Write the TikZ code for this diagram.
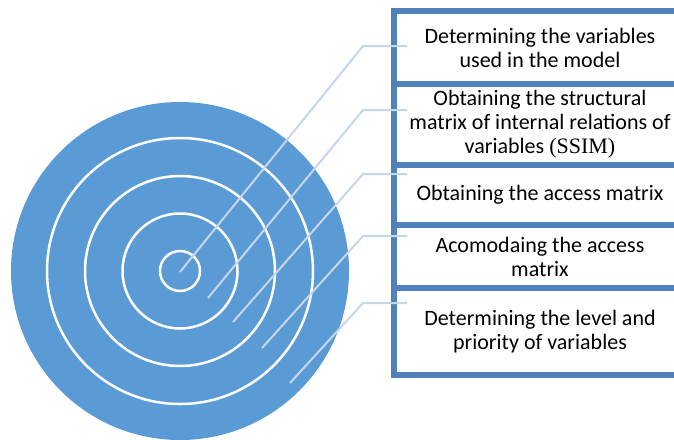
\documentclass[tikz,border=0pt]{standalone}
\usepackage{fontspec}
\usetikzlibrary{calc}
\setmainfont{Carlito}
\newfontfamily\ssimfont{Liberation Serif}
\definecolor{discblue}{HTML}{5B9BD5}
\definecolor{frameblue}{HTML}{4F81BD}
\definecolor{leadergray}{HTML}{C6D5EA}
\tikzset{
	stagebox/.style={draw=frameblue, fill=white, line width=6pt, shape=rectangle, anchor=north west, inner sep=0pt, outer sep=0pt, minimum width=292pt, align=center, font=\fontsize{22}{24}\selectfont},
	ring/.style={draw=white, line width=2.5pt},
	leader/.style={draw=leadergray, line width=2pt},
}
\begin{document}
\begin{tikzpicture}[x=1pt, y=-1pt]
	\useasboundingbox (0,0) rectangle (674,439);
	\clip (0,0) rectangle (674,439);

	% target
	\fill[discblue] (180,271) circle[radius=169pt];
	\foreach \r in {133,95,57.5,20}
		\draw[ring] (180,271) circle[radius=\r pt];

	% stages
	\node[stagebox, minimum height=73pt] (s_1) at (394,11) {Determining the variables\\used in the model};
	\node[stagebox, minimum height=81pt] (s_2) at (394,84) {Obtaining the structural\\matrix of internal relations of\\variables {\ssimfont(SSIM)}};
	\node[stagebox, minimum height=60pt] (s_3) at (394,165) {Obtaining the access matrix};
	\node[stagebox, minimum height=63pt] (s_4) at (394,225) {Acomodaing the access\\matrix};
	\node[stagebox, minimum height=87pt] (s_5) at (394,288) {Determining the level and\\priority of variables};

	% leaders
	\coordinate (p_1) at (180,272);
	\coordinate (p_2) at (208,298);
	\coordinate (p_3) at (233,322);
	\coordinate (p_4) at (262,348);
	\coordinate (p_5) at (290,383);
	\coordinate (k_1) at (363,46);
	\coordinate (k_2) at (363,110);
	\coordinate (k_3) at (363,174);
	\coordinate (k_4) at (363,236);
	\coordinate (k_5) at (363,303);
	\foreach \i in {1,...,5}
		\draw[leader] (p_\i) -- (k_\i) -- ($(k_\i -| s_\i.west)+(13,0)$);
\end{tikzpicture}
\end{document}
